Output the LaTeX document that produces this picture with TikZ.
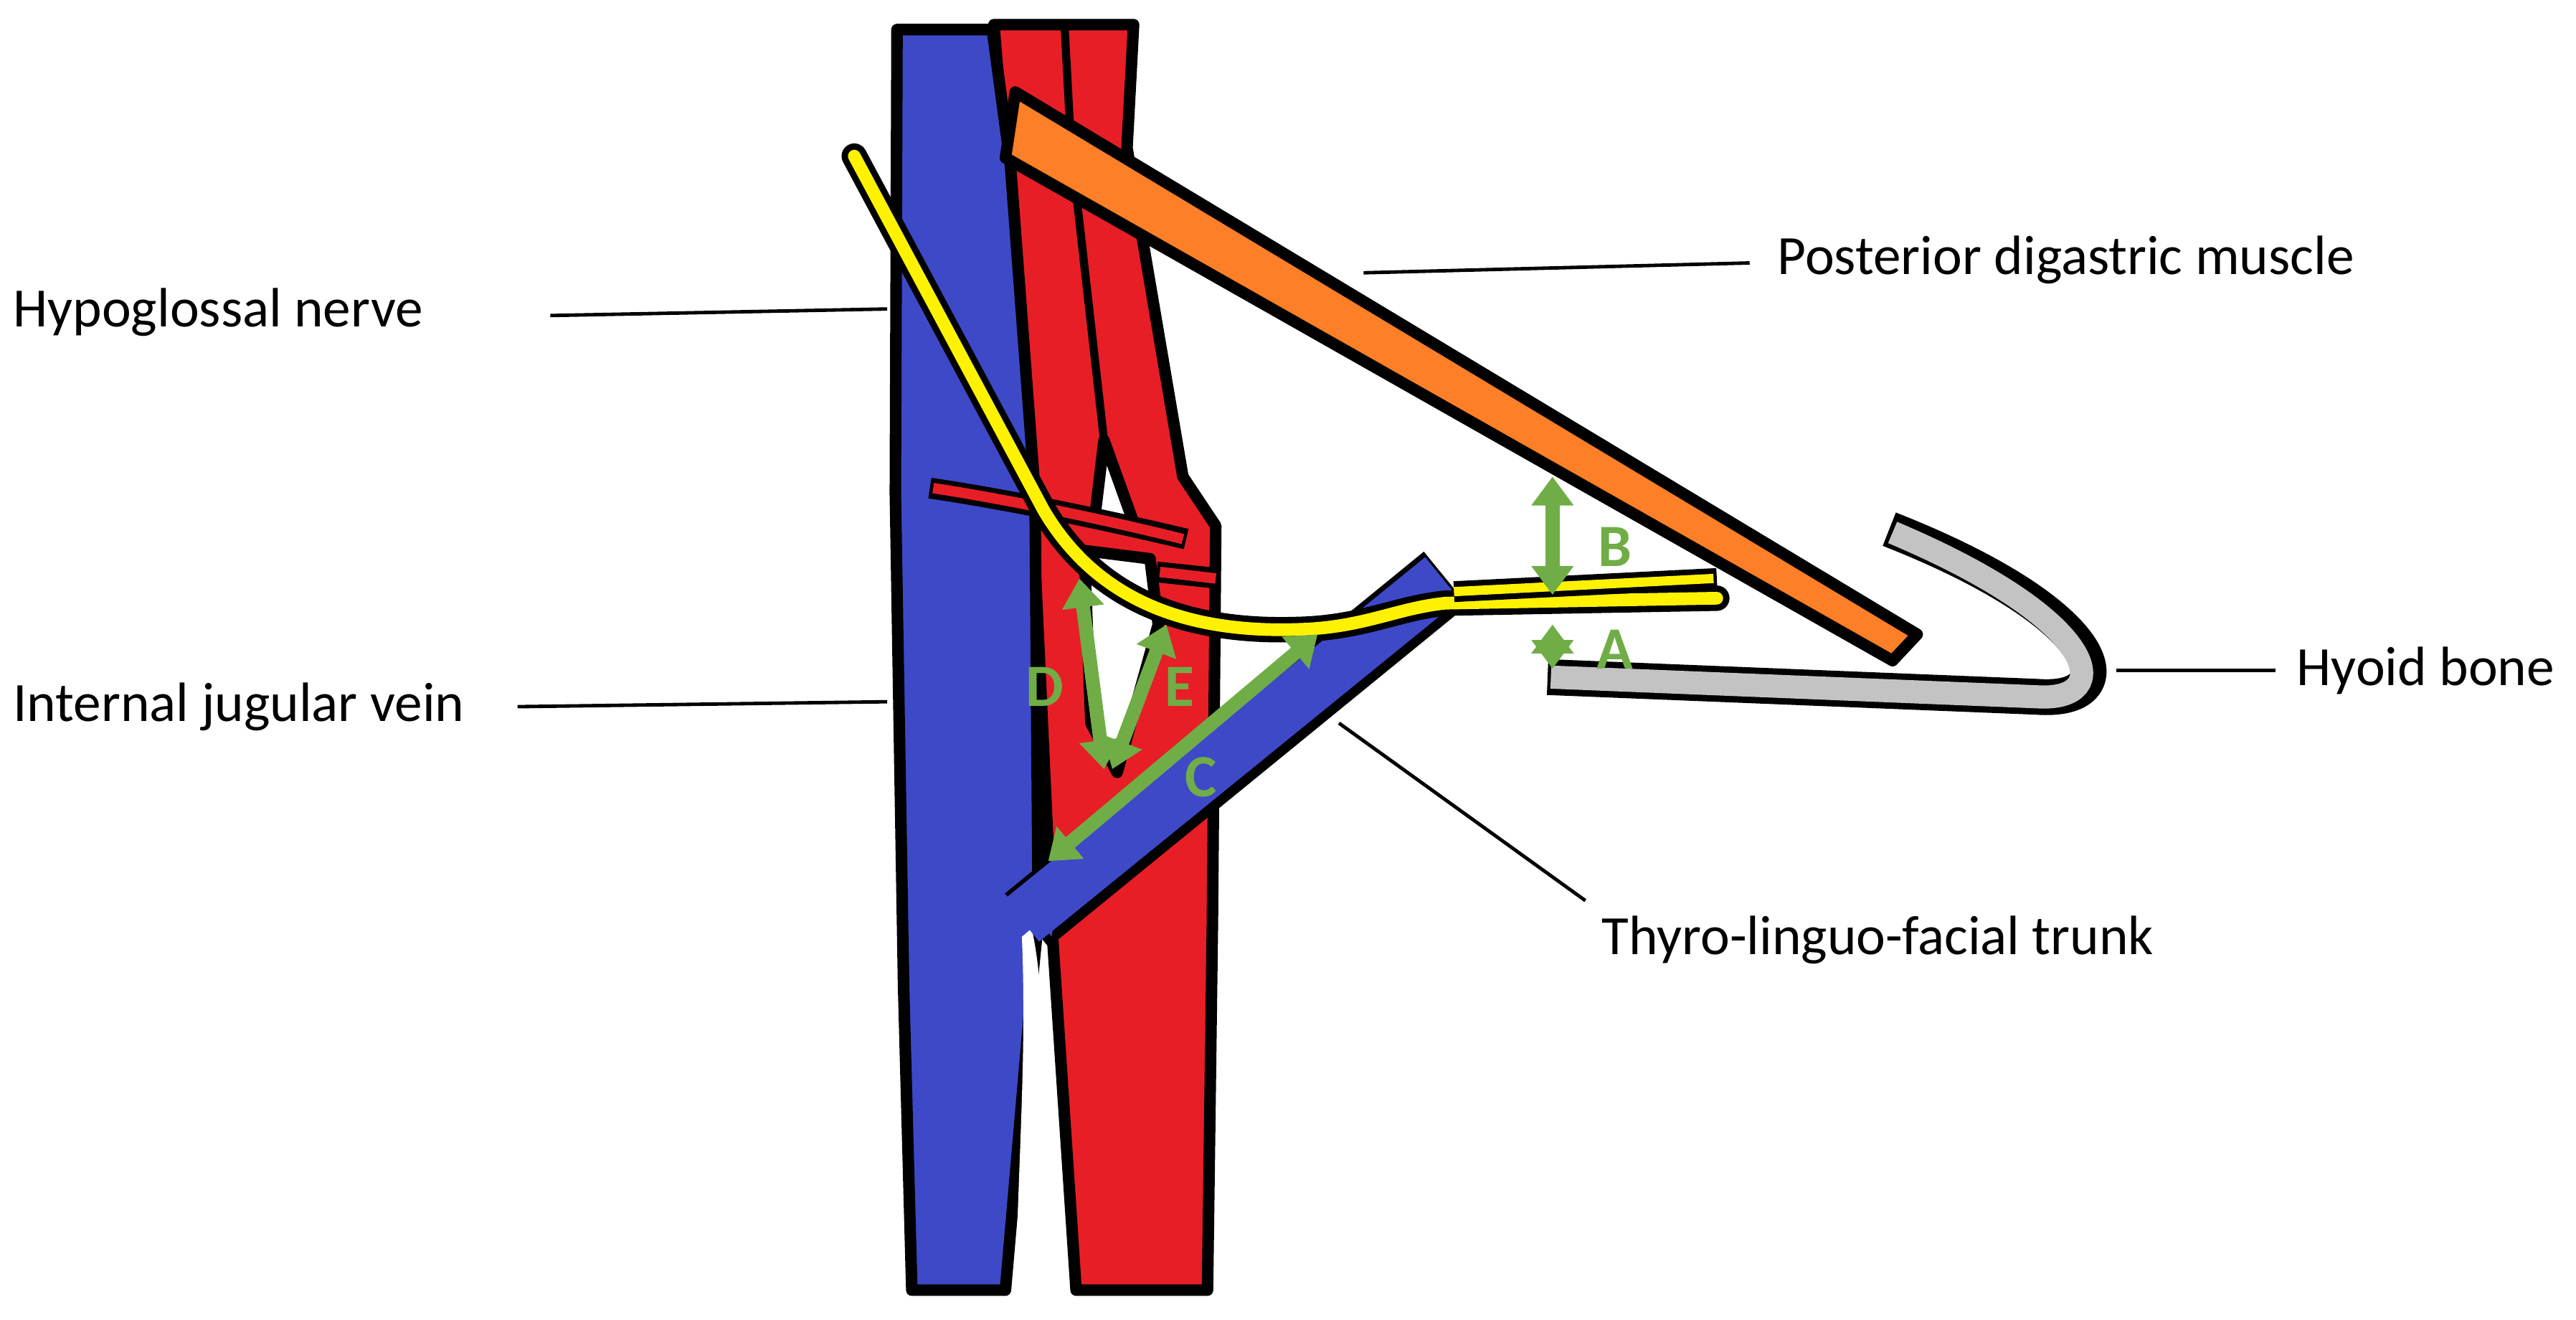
\documentclass[tikz,border=0pt]{standalone}
\usepackage{fontspec}
\setmainfont{Carlito}
\usetikzlibrary{arrows.meta}
\definecolor{vein}{RGB}{62,73,200}
\definecolor{art}{RGB}{232,30,38}
\definecolor{musc}{RGB}{253,127,39}
\definecolor{bone}{RGB}{195,195,195}
\definecolor{nerv}{RGB}{255,242,0}
\definecolor{grn}{RGB}{112,173,71}
\tikzset{
  lbl/.style={font=\fontsize{96}{100}\selectfont, anchor=west, inner sep=0},
  lead/.style={line width=6pt},
  garrow/.style={grn, line width=24pt, {Triangle[length=50pt,width=70pt]}-{Triangle[length=50pt,width=70pt]}},
  glet/.style={grn, font=\bfseries\fontsize{104}{110}\selectfont, inner sep=0},
  outl/.style={line width=20pt, line join=round}
}
\begin{document}
\begin{tikzpicture}[x=0.1cm,y=-0.1cm]
\useasboundingbox (0,0) rectangle (1568,803);
% carotid
\filldraw[art, draw=black, outl] (605,15) -- (690,15) -- (686,90) -- (720,290) -- (740,320) -- (738,560) -- (735,785) -- (655,785) -- (640,560) -- (628,300) -- cycle;
\draw[black, line width=14pt] (648,16) -- (652,90) (655,117) -- (672,268);
\filldraw[white, draw=black, outl] (672,268) -- (690,318) -- (666,318) -- cycle;
\filldraw[white, draw=black, outl] (660,335) -- (700,340) -- (705,380) -- (680,470) -- (664,440) -- cycle;
% IJV
\filldraw[vein, draw=black, outl] (546,18) -- (604,18) -- (615,100) -- (630,300) -- (632,560) -- (628,600) -- (612,785) -- (555,785) -- (550,600) -- (545,300) -- cycle;
\fill[white] (628,565) .. controls (640,620) and (630,680) .. (632,790) -- (618,790) .. controls (620,700) and (625,640) .. (622,570) -- cycle;
% orange muscle
\filldraw[musc, draw=black, outl] (618,56) -- (1167,386) -- (1152,402) -- (612,96) -- cycle;
% hyoid
\draw[black, line width=62pt, line cap=butt] (942,412) -- (1240,424) .. controls (1295,428) and (1285,375) .. (1150,322);
\draw[bone, line width=40pt, line cap=butt] (944,412) -- (1240,424) .. controls (1288,427) and (1280,378) .. (1152,324);
% small red branch
\draw[black, line width=36pt] (566,297) .. controls (620,305) and (680,318) .. (722,328);
\draw[art, line width=18pt] (568,297) .. controls (620,305) and (680,318) .. (720,328);
\draw[black, line width=36pt] (704,348) -- (742,352);
\draw[art, line width=18pt] (706,348) -- (740,352);
% TLF trunk
\draw[black, line width=120pt] (625,560) -- (880,352);
\draw[vein, line width=95pt] (622,560) -- (878,352);
\fill[vein] (628,552) -- (650,520) -- (640,570) -- cycle;
% nerve
\draw[black, line width=44pt, line cap=round, line join=round] (520,95) -- (635,310) .. controls (670,370) and (730,385) .. (790,383) .. controls (830,382) and (850,370) .. (880,367) -- (1045,364);
\draw[nerv, line width=22pt, line cap=round, line join=round] (520,95) -- (635,310) .. controls (670,370) and (730,385) .. (790,383) .. controls (830,382) and (850,370) .. (880,367) -- (1045,364);
\draw[black, line width=36pt] (885,360) -- (1045,352);
\draw[nerv, line width=16pt] (885,360) -- (1043,352);
% green arrows
\draw[garrow] (945,380) -- (945,407);
\draw[garrow] (945,290) -- (945,362);
\draw[garrow] (638,524) -- (802,386);
\draw[garrow] (657,352) -- (672,468);
\draw[garrow] (710,380) -- (677,468);
\node[glet] at (983,395) {A};
\node[glet] at (983,333) {B};
\node[glet] at (731,473) {C};
\node[glet] at (636,418) {D};
\node[glet] at (718,418) {E};
% leaders and labels
\coordinate (h1) at (540,188); \node[lbl] (hn) at (8,190) {Hypoglossal nerve};
\draw[lead] (335,192) -- (h1);
\coordinate (i1) at (540,427); \node[lbl] (ij) at (8,430) {Internal jugular vein};
\draw[lead] (315,430) -- (i1);
\coordinate (p1) at (830,166); \node[lbl] (pd) at (1082,158) {Posterior digastric muscle};
\draw[lead] (p1) -- (1065,160);
\coordinate (hy1) at (1288,408); \node[lbl] (hb) at (1398,408) {Hyoid bone};
\draw[lead] (hy1) -- (1385,408);
\coordinate (t1) at (815,440); \node[lbl] (tl) at (975,572) {Thyro-linguo-facial trunk};
\draw[lead] (t1) -- (965,548);
\end{tikzpicture}
\end{document}
